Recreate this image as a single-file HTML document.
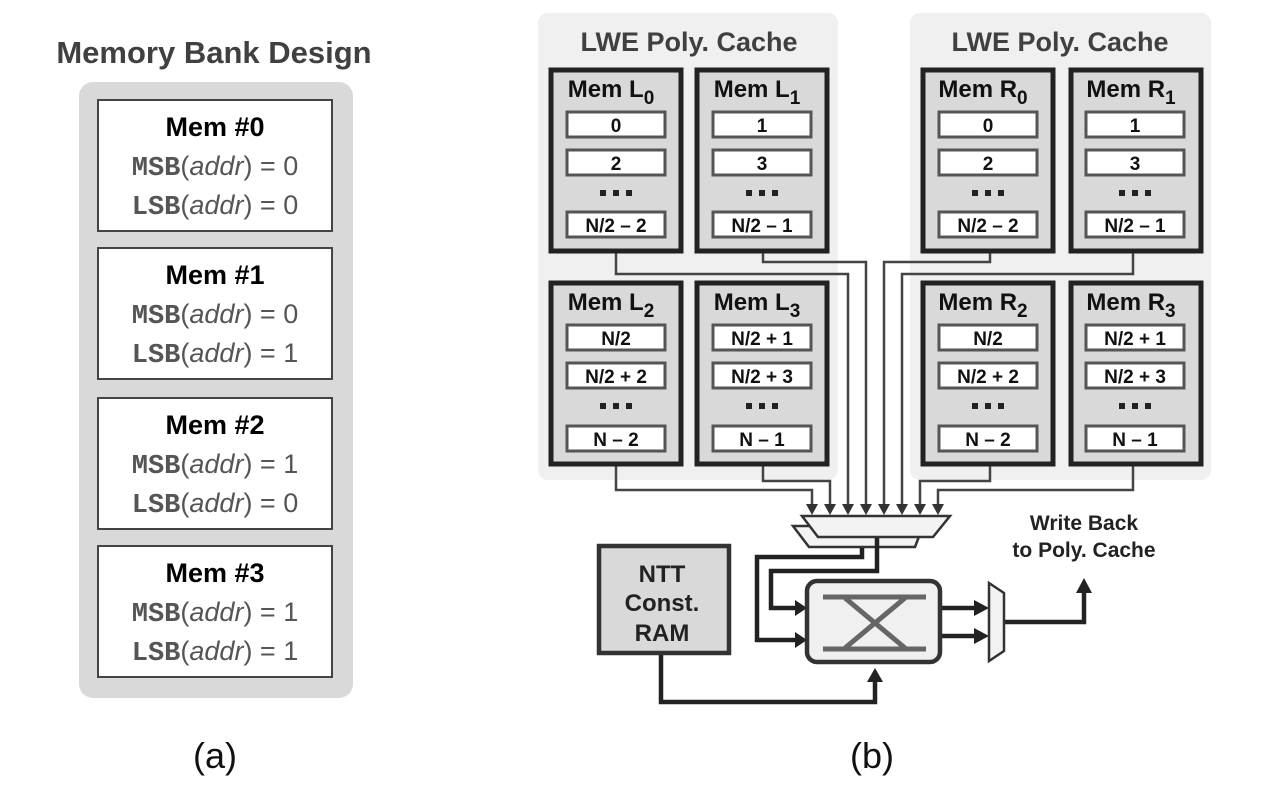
<!DOCTYPE html>
<html><head><meta charset="utf-8"><style>
body{margin:0;background:#fff;}
svg{display:block;font-family:"Liberation Sans",sans-serif;}
.t{font-weight:bold;font-size:24px;fill:#111;text-anchor:middle}
.c{font-weight:bold;font-size:19px;fill:#111;text-anchor:middle}
.m{fill:#d9d9d9;stroke:#222;stroke-width:5}
.i{fill:#fff;stroke:#555;stroke-width:3}
.w{fill:none;stroke:#444;stroke-width:2.5}
.k{fill:none;stroke:#222;stroke-width:4.5}
.mono{font-family:"Liberation Mono",monospace;font-weight:bold;fill:#555}
.lp{font-size:27px;fill:#555;text-anchor:middle}
.h{font-size:27px;font-weight:bold;fill:#000;text-anchor:middle}
</style></head><body>
<svg width="1267" height="786" viewBox="0 0 1267 786">
<defs>
<g id="dots"><rect x="-16" y="-3" width="6" height="6" fill="#222"/><rect x="-3" y="-3" width="6" height="6" fill="#222"/><rect x="10" y="-3" width="6" height="6" fill="#222"/></g>
</defs>
<!-- left panel -->
<text x="214" y="63" font-size="31" font-weight="bold" fill="#404040" text-anchor="middle">Memory Bank Design</text>
<rect x="79" y="82" width="274" height="616" rx="14" fill="#d9d9d9"/>
<g>
<rect x="98" y="100" width="234" height="131" fill="#fff" stroke="#444" stroke-width="2"/>
<text x="215" y="136" class="h">Mem #0</text>
<text x="215" y="175" class="lp"><tspan class="mono">MSB</tspan>(<tspan font-style="italic">addr</tspan>) = 0</text>
<text x="215" y="214" class="lp"><tspan class="mono">LSB</tspan>(<tspan font-style="italic">addr</tspan>) = 0</text>
<rect x="98" y="248" width="234" height="131" fill="#fff" stroke="#444" stroke-width="2"/>
<text x="215" y="284" class="h">Mem #1</text>
<text x="215" y="323" class="lp"><tspan class="mono">MSB</tspan>(<tspan font-style="italic">addr</tspan>) = 0</text>
<text x="215" y="362" class="lp"><tspan class="mono">LSB</tspan>(<tspan font-style="italic">addr</tspan>) = 1</text>
<rect x="98" y="398" width="234" height="131" fill="#fff" stroke="#444" stroke-width="2"/>
<text x="215" y="434" class="h">Mem #2</text>
<text x="215" y="473" class="lp"><tspan class="mono">MSB</tspan>(<tspan font-style="italic">addr</tspan>) = 1</text>
<text x="215" y="512" class="lp"><tspan class="mono">LSB</tspan>(<tspan font-style="italic">addr</tspan>) = 0</text>
<rect x="98" y="546" width="234" height="131" fill="#fff" stroke="#444" stroke-width="2"/>
<text x="215" y="582" class="h">Mem #3</text>
<text x="215" y="621" class="lp"><tspan class="mono">MSB</tspan>(<tspan font-style="italic">addr</tspan>) = 1</text>
<text x="215" y="660" class="lp"><tspan class="mono">LSB</tspan>(<tspan font-style="italic">addr</tspan>) = 1</text>
</g>
<text x="215" y="768" font-size="36" fill="#111" text-anchor="middle">(a)</text>
<text x="872" y="768" font-size="36" fill="#111" text-anchor="middle">(b)</text>

<!-- caches -->
<rect x="538" y="13" width="300" height="467" rx="10" fill="#f0f0f0"/>
<rect x="910" y="13" width="301" height="467" rx="10" fill="#f0f0f0"/>
<text x="689" y="51" font-size="27" font-weight="bold" fill="#404040" text-anchor="middle">LWE Poly. Cache</text>
<text x="1060" y="51" font-size="27" font-weight="bold" fill="#404040" text-anchor="middle">LWE Poly. Cache</text>

<!-- wires -->
<g class="w">
<polyline points="616,253 616,274 848,274 848,506"/>
<polyline points="763,253 763,262 866,262 866,506"/>
<polyline points="990,253 990,262 884,262 884,506"/>
<polyline points="1133,253 1133,274 902,274 902,506"/>
<polyline points="616,466 616,490 812,490 812,506"/>
<polyline points="763,466 763,481 830,481 830,506"/>
<polyline points="990,466 990,481 920,481 920,506"/>
<polyline points="1133,466 1133,490 938,490 938,506"/>
</g>
<g fill="#333">
<polygon points="806,504 818,504 812,515"/><polygon points="824,504 836,504 830,515"/>
<polygon points="842,504 854,504 848,515"/><polygon points="860,504 872,504 866,515"/>
<polygon points="878,504 890,504 884,515"/><polygon points="896,504 908,504 902,515"/>
<polygon points="914,504 926,504 920,515"/><polygon points="932,504 944,504 938,515"/>
</g>

<!-- mem boxes top -->
<g>
<rect x="551" y="70" width="130" height="181" class="m"/>
<text x="611" y="97" class="t">Mem L<tspan font-size="19" dy="7">0</tspan></text>
<rect x="567" y="112" width="98" height="25" class="i"/><text x="616" y="132" class="c">0</text>
<rect x="567" y="150" width="98" height="25" class="i"/><text x="616" y="170" class="c">2</text>
<use href="#dots" x="616" y="193"/>
<rect x="567" y="212" width="98" height="25" class="i"/><text x="616" y="232" class="c">N/2 – 2</text>

<rect x="697" y="70" width="130" height="181" class="m"/>
<text x="757" y="97" class="t">Mem L<tspan font-size="19" dy="7">1</tspan></text>
<rect x="713" y="112" width="98" height="25" class="i"/><text x="762" y="132" class="c">1</text>
<rect x="713" y="150" width="98" height="25" class="i"/><text x="762" y="170" class="c">3</text>
<use href="#dots" x="762" y="193"/>
<rect x="713" y="212" width="98" height="25" class="i"/><text x="762" y="232" class="c">N/2 – 1</text>

<rect x="923" y="70" width="130" height="181" class="m"/>
<text x="983" y="97" class="t">Mem R<tspan font-size="19" dy="7">0</tspan></text>
<rect x="939" y="112" width="98" height="25" class="i"/><text x="988" y="132" class="c">0</text>
<rect x="939" y="150" width="98" height="25" class="i"/><text x="988" y="170" class="c">2</text>
<use href="#dots" x="988" y="193"/>
<rect x="939" y="212" width="98" height="25" class="i"/><text x="988" y="232" class="c">N/2 – 2</text>

<rect x="1071" y="70" width="130" height="181" class="m"/>
<text x="1131" y="97" class="t">Mem R<tspan font-size="19" dy="7">1</tspan></text>
<rect x="1086" y="112" width="98" height="25" class="i"/><text x="1135" y="132" class="c">1</text>
<rect x="1086" y="150" width="98" height="25" class="i"/><text x="1135" y="170" class="c">3</text>
<use href="#dots" x="1135" y="193"/>
<rect x="1086" y="212" width="98" height="25" class="i"/><text x="1135" y="232" class="c">N/2 – 1</text>
</g>
<!-- mem boxes bottom -->
<g>
<rect x="551" y="283" width="130" height="181" class="m"/>
<text x="611" y="310" class="t">Mem L<tspan font-size="19" dy="7">2</tspan></text>
<rect x="567" y="325" width="98" height="25" class="i"/><text x="616" y="345" class="c">N/2</text>
<rect x="567" y="363" width="98" height="25" class="i"/><text x="616" y="383" class="c">N/2 + 2</text>
<use href="#dots" x="616" y="406"/>
<rect x="567" y="426" width="98" height="25" class="i"/><text x="616" y="446" class="c">N – 2</text>

<rect x="697" y="283" width="130" height="181" class="m"/>
<text x="757" y="310" class="t">Mem L<tspan font-size="19" dy="7">3</tspan></text>
<rect x="713" y="325" width="98" height="25" class="i"/><text x="762" y="345" class="c">N/2 + 1</text>
<rect x="713" y="363" width="98" height="25" class="i"/><text x="762" y="383" class="c">N/2 + 3</text>
<use href="#dots" x="762" y="406"/>
<rect x="713" y="426" width="98" height="25" class="i"/><text x="762" y="446" class="c">N – 1</text>

<rect x="923" y="283" width="130" height="181" class="m"/>
<text x="983" y="310" class="t">Mem R<tspan font-size="19" dy="7">2</tspan></text>
<rect x="939" y="325" width="98" height="25" class="i"/><text x="988" y="345" class="c">N/2</text>
<rect x="939" y="363" width="98" height="25" class="i"/><text x="988" y="383" class="c">N/2 + 2</text>
<use href="#dots" x="988" y="406"/>
<rect x="939" y="426" width="98" height="25" class="i"/><text x="988" y="446" class="c">N – 2</text>

<rect x="1071" y="283" width="130" height="181" class="m"/>
<text x="1131" y="310" class="t">Mem R<tspan font-size="19" dy="7">3</tspan></text>
<rect x="1086" y="325" width="98" height="25" class="i"/><text x="1135" y="345" class="c">N/2 + 1</text>
<rect x="1086" y="363" width="98" height="25" class="i"/><text x="1135" y="383" class="c">N/2 + 3</text>
<use href="#dots" x="1135" y="406"/>
<rect x="1086" y="426" width="98" height="25" class="i"/><text x="1135" y="446" class="c">N – 1</text>
</g>

<!-- muxes -->
<polygon points="793,526 923,526 915,547 809,547" fill="#f3f3f3" stroke="#333" stroke-width="2.5"/>
<polygon points="802,516 950,516 933,537 818,537" fill="#f3f3f3" stroke="#333" stroke-width="2.5"/>
<g class="k">
<polyline points="877,538 877,571 771,571 771,608 800,608"/>
<polyline points="862,548 862,557 757,557 757,640 800,640"/>
<polyline points="661,655 661,702 875,702 875,680"/>
<polyline points="941,608 975,608"/>
<polyline points="941,636 975,636"/>
<polyline points="1004,622 1084,622 1084,592"/>
</g>
<g fill="#222">
<polygon points="795,600 807,608 795,616"/><polygon points="795,632 807,640 795,648"/>
<polygon points="867,682 875,668 883,682"/>
<polygon points="974,600 989,608 974,616"/><polygon points="974,628 989,636 974,644"/>
<polygon points="1076,593 1084,578 1092,593"/>
</g>
<polygon points="989,583 1004,593 1004,651 989,661" fill="#f3f3f3" stroke="#333" stroke-width="2.5"/>
<rect x="807" y="581" width="133" height="81" rx="10" fill="#f0f0f0" stroke="#333" stroke-width="4.5"/>
<g stroke="#666" stroke-width="5">
<line x1="823" y1="597" x2="926" y2="597"/><line x1="823" y1="649" x2="926" y2="649"/>
<line x1="845" y1="598" x2="905" y2="648"/><line x1="905" y1="598" x2="845" y2="648"/>
</g>
<rect x="599" y="546" width="130" height="107" fill="#d9d9d9" stroke="#333" stroke-width="4.5"/>
<text x="662" y="582" font-size="24" font-weight="bold" fill="#222" text-anchor="middle">NTT</text>
<text x="662" y="611" font-size="24" font-weight="bold" fill="#222" text-anchor="middle">Const.</text>
<text x="662" y="641" font-size="24" font-weight="bold" fill="#222" text-anchor="middle">RAM</text>
<text x="1084" y="530" font-size="21" font-weight="bold" fill="#222" text-anchor="middle">Write Back</text>
<text x="1084" y="557" font-size="21" font-weight="bold" fill="#222" text-anchor="middle">to Poly. Cache</text>
</svg>
</body></html>
